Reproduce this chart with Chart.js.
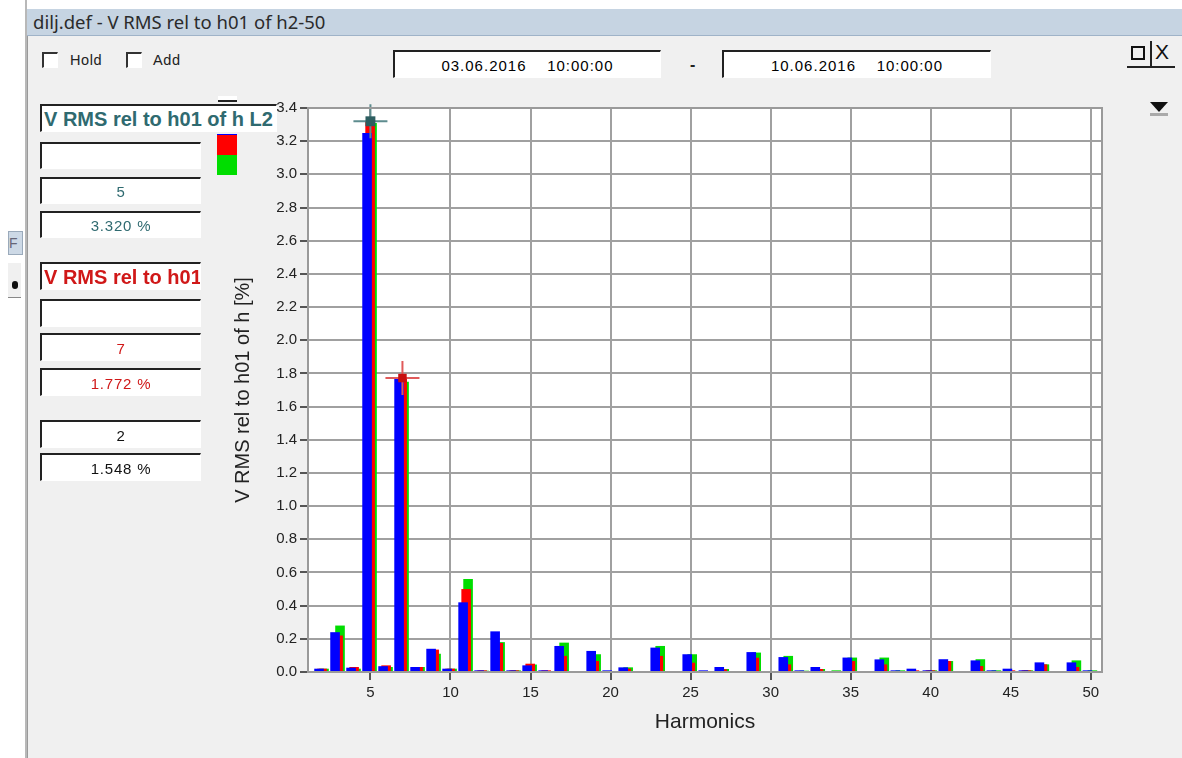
<!DOCTYPE html>
<html>
<head>
<meta charset="utf-8">
<script src="https://cdn.jsdelivr.net/npm/chart.js@4.4.1/dist/chart.umd.min.js"></script>
<style>
  body { margin: 0; width: 1182px; height: 758px; background: #fff; overflow: hidden;
         font-family: "Liberation Sans", Arial, sans-serif; position: relative; }
  .abs { position: absolute; }
  #win { left: 27px; top: 9px; width: 1155px; height: 749px; background: #f0f0f0;
         border-left: 1px solid #9a9a9a; }
  #titlebar { left: 27px; top: 9px; width: 1155px; height: 27px; background: #c6d4e2;
              border-bottom: 1px solid #9fb3c8; font-family: "Noto Sans", "DejaVu Sans", sans-serif;
              font-size: 18.5px; color: #2b2b2b; line-height: 26px; padding-left: 6px; box-sizing: border-box; }
  .chk { width: 13px; height: 13px; background: #fff; border-top: 2px solid #333; border-left: 2px solid #333;
         border-right: 1px solid #fff; border-bottom: 1px solid #fff; }
  .lbl { font-size: 14.5px; color: #222; letter-spacing: 0.6px; }
  .box { background: #fff; border-top: 2px solid #222; border-left: 2px solid #222;
         border-right: 1px solid #fff; border-bottom: 1px solid #fff; box-sizing: border-box;
         font-size: 15px; letter-spacing: 0.8px; text-align: center; overflow: hidden; white-space: pre; }
  .date { font-size: 15px; letter-spacing: 1px; }
  .teal { color: #2f6a70; }
  .red { color: #d01818; }
  .big { font-weight: bold; font-size: 20px; letter-spacing: 0; text-align: left; padding-left: 2px; }
  #chartWrap { left: 225px; top: 91px; width: 881px; height: 655px; }
</style>
</head>
<body>
<div id="win" class="abs"></div>
<div id="titlebar" class="abs">dilj.def - V RMS rel to h01 of h2-50</div>

<!-- partial neighbour window on the left -->
<div class="abs" style="left:25px;top:0;width:2px;height:758px;background:#b8b8b8"></div>
<div class="abs" style="left:8px;top:231px;width:13px;height:22px;background:#cdd9e6;border:1px solid #9aaabb;font-size:14px;color:#667;line-height:22px">F</div>
<div class="abs" style="left:8px;top:262px;width:13px;height:34px;background:#f0f0f0;border-top:1px solid #fff;border-bottom:1px solid #888"></div>
<div class="abs" style="left:12px;top:281px;width:6px;height:8px;background:#111;border-radius:3px"></div>

<!-- top controls -->
<div class="abs chk" style="left:42px;top:52px"></div>
<div class="abs lbl" style="left:70px;top:52px">Hold</div>
<div class="abs chk" style="left:126px;top:52px"></div>
<div class="abs lbl" style="left:153px;top:52px">Add</div>

<div class="abs box date" style="left:393px;top:50px;width:268px;height:28px;line-height:27px">03.06.2016    10:00:00</div>
<div class="abs" style="left:690px;top:56px;font-size:16px;font-weight:bold;color:#222">-</div>
<div class="abs box date" style="left:722px;top:50px;width:269px;height:28px;line-height:27px">10.06.2016    10:00:00</div>

<!-- window buttons -->
<div class="abs" style="left:1127px;top:42px;width:48px;height:24px;border-bottom:2px solid #222"></div>
<div class="abs" style="left:1131px;top:46px;width:14px;height:14px;border:2px solid #111;box-sizing:border-box"></div>
<div class="abs" style="left:1150px;top:41px;width:2px;height:25px;background:#222"></div>
<div class="abs" style="left:1155px;top:40px;font-size:21px;color:#111">X</div>
<div class="abs" style="left:1150px;top:102px;width:0;height:0;border-left:9px solid transparent;border-right:9px solid transparent;border-top:10px solid #111"></div>
<div class="abs" style="left:1150px;top:113px;width:18px;height:3px;background:#aaa"></div>

<div id="chartWrap" class="abs"><canvas id="chart" width="881" height="655"></canvas></div>

<!-- left cursor panel (drawn above the chart) -->
<div class="abs" style="left:218px;top:96px;width:19px;height:4px;background:#fff;border-bottom:2px solid #222"></div>
<div class="abs box teal big" style="left:40px;top:104px;width:237px;height:28px;line-height:27px">V RMS rel to h01 of h L2</div>
<div class="abs" style="left:217px;top:134px;width:20px;height:1px;background:#0000ff"></div>
<div class="abs" style="left:217px;top:135px;width:20px;height:20px;background:#ff0000"></div>
<div class="abs" style="left:217px;top:155px;width:20px;height:20px;background:#00dd00"></div>
<div class="abs box" style="left:40px;top:142px;width:161px;height:27px"></div>
<div class="abs box teal" style="left:40px;top:177px;width:161px;height:27px;line-height:26px">5</div>
<div class="abs box teal" style="left:40px;top:211px;width:161px;height:27px;line-height:26px">3.320 %</div>
<div class="abs box red big" style="left:40px;top:262px;width:161px;height:28px;line-height:27px">V RMS rel to h01 of h L1</div>
<div class="abs box" style="left:40px;top:299px;width:161px;height:28px"></div>
<div class="abs box red" style="left:40px;top:333px;width:161px;height:28px;line-height:27px">7</div>
<div class="abs box red" style="left:40px;top:368px;width:161px;height:28px;line-height:27px">1.772 %</div>
<div class="abs box" style="left:40px;top:420px;width:161px;height:28px;line-height:27px;color:#111">2</div>
<div class="abs box" style="left:40px;top:453px;width:161px;height:28px;line-height:27px;color:#111">1.548 %</div>

<script>
// harmonic orders shown on the x axis
const harmonics = [2, 3, 4, 5, 6, 7, 8, 9, 10, 11, 12, 13, 14, 15, 16, 17, 18, 19, 20, 21, 22, 23, 24, 25, 26,
  27, 28, 29, 30, 31, 32, 33, 34, 35, 36, 37, 38, 39, 40, 41, 42, 43, 44, 45, 46, 47, 48, 49, 50];

// V RMS rel to h01 [%], one value per harmonic
const blueValues = [0.02, 0.24, 0.026, 3.25, 0.035, 1.77, 0.03, 0.14, 0.02, 0.42, 0.01, 0.245, 0.01, 0.04, 0.01,
  0.157, 0, 0.127, 0.01, 0.028, 0, 0.147, 0, 0.107, 0.01, 0.03, 0, 0.12, 0, 0.09, 0.01, 0.03, 0, 0.087,
  0, 0.076, 0.01, 0.02, 0.01, 0.077, 0, 0.07, 0.01, 0.02, 0.01, 0.058, 0, 0.058, 0.01];
const redValues = [0.02, 0.22, 0.03, 3.32, 0.04, 1.772, 0.03, 0.135, 0.02, 0.50, 0.01, 0.175, 0.01, 0.05, 0.01,
  0.097, 0, 0.066, 0.005, 0.02, 0, 0.097, 0, 0.056, 0.005, 0.016, 0, 0.086, 0, 0.046, 0.005, 0.018, 0, 0.066,
  0, 0.046, 0.005, 0.01, 0.01, 0.066, 0, 0.036, 0.005, 0.01, 0.01, 0.046, 0, 0.03, 0.005];
const greenValues = [0.02, 0.28, 0.02, 3.31, 0.03, 1.75, 0.03, 0.11, 0.02, 0.56, 0.008, 0.18, 0.01, 0.045, 0.005,
  0.177, 0, 0.107, 0.005, 0.028, 0, 0.157, 0, 0.107, 0.005, 0.018, 0, 0.117, 0, 0.097, 0.008, 0.018, 0.01, 0.087,
  0, 0.087, 0.01, 0.005, 0.01, 0.066, 0, 0.077, 0.01, 0.005, 0.01, 0.046, 0, 0.07, 0.01];

const xTickValues = [5, 10, 15, 20, 25, 30, 35, 40, 45, 50];
const yTickValues = [0, 0.2, 0.4, 0.6, 0.8, 1.0, 1.2, 1.4, 1.6, 1.8, 2.0, 2.2, 2.4, 2.6, 2.8, 3.0, 3.2, 3.4];

// the two cursors (harmonic, value)
const cursorHarmonics = [5, 7];
const cursorValues = [3.320, 1.772];

const FONT = '"Liberation Sans", Arial, sans-serif';
const X_MIN = 1.1, X_MAX = 50.7;

const setTicks = vals => scale => { scale.ticks = vals.map(v => ({ value: v })); };

// each phase sits on its own hidden axis, shifted a little so the bars overlap like the original
function hiddenAxis(shift) {
  return { type: 'linear', display: false, offset: false, min: X_MIN + shift, max: X_MAX + shift,
           afterBuildTicks: setTicks(xTickValues) };
}

function barSet(label, values, color, axis) {
  return {
    type: 'bar',
    label: label,
    data: harmonics.map((h, i) => ({ x: h, y: values[i] })),
    backgroundColor: color,
    borderWidth: 0,
    xAxisID: axis,
    grouped: false,
    categoryPercentage: 1,
    barPercentage: 0.6
  };
}

function cursorSet(i, style, radius, color, order) {
  return {
    type: 'scatter',
    data: [{ x: cursorHarmonics[i], y: cursorValues[i] }],
    xAxisID: 'x',
    order: order,
    clip: false,
    pointStyle: style,
    pointRadius: radius,
    pointHoverRadius: radius,
    pointBackgroundColor: color,
    pointBorderColor: color,
    pointBorderWidth: style === 'cross' ? 2 : 0
  };
}

const plotFrame = {
  id: 'plotFrame',
  beforeDraw(chart) {
    const { ctx, chartArea: a } = chart;
    ctx.save();
    ctx.fillStyle = '#fff';
    ctx.fillRect(a.left, a.top, a.right - a.left, a.bottom - a.top);
    ctx.restore();
  },
  afterDraw(chart) {
    const { ctx, chartArea: a } = chart;
    ctx.save();
    ctx.strokeStyle = '#9a9a9a';
    ctx.lineWidth = 2;
    ctx.strokeRect(a.left, a.top, a.right - a.left, a.bottom - a.top);
    ctx.restore();
  }
};

new Chart(document.getElementById('chart'), {
  type: 'bar',
  data: {
    datasets: [
      cursorSet(0, 'rect', 7, '#2d5e60', -2),
      cursorSet(0, 'cross', 17, '#5e8c8e', -1),
      cursorSet(1, 'rect', 6, '#c81010', -2),
      cursorSet(1, 'cross', 17, '#e05a5a', -1),
      barSet('L3', blueValues, '#0000ff', 'xBlue'),
      barSet('L1', redValues, '#ff0000', 'xRed'),
      barSet('L2', greenValues, '#00dd00', 'xGreen')
    ]
  },
  options: {
    responsive: false,
    animation: false,
    layout: { autoPadding: false, padding: { top: 17, right: 4, left: 0, bottom: 0 } },
    plugins: { legend: { display: false }, tooltip: { enabled: false } },
    scales: {
      x: {
        type: 'linear',
        position: 'bottom',
        offset: false,
        min: X_MIN,
        max: X_MAX,
        afterBuildTicks: setTicks(xTickValues),
        afterFit: s => { s.height = 74; },
        grid: { offset: false, color: '#a0a0a0', lineWidth: 2, tickLength: 8, tickColor: '#222', tickWidth: 1.5 },
        border: { display: true, color: '#9a9a9a', width: 2 },
        ticks: { color: '#222', padding: 4, font: { family: FONT, size: 15 }, maxRotation: 0,
                 callback: v => String(v) },
        title: { display: true, text: 'Harmonics', color: '#222',
                 font: { family: FONT, size: 21 }, padding: { top: 0, bottom: 11 } }
      },
      xBlue: hiddenAxis(0.21),
      xRed: hiddenAxis(0.02),
      xGreen: hiddenAxis(-0.1),
      y: {
        min: 0,
        max: 3.4,
        afterBuildTicks: setTicks(yTickValues),
        afterFit: s => { s.width = 83; },
        grid: { color: '#a0a0a0', lineWidth: 2, tickLength: 8, tickColor: '#222', tickWidth: 1.5 },
        border: { display: true, color: '#9a9a9a', width: 2 },
        ticks: { color: '#222', padding: 3, font: { family: FONT, size: 15 },
                 callback: v => Number(v).toFixed(1) },
        title: { display: true, text: 'V RMS rel to h01 of h [%]', color: '#222',
                 font: { family: FONT, size: 20 }, padding: { top: 6, bottom: 0 } }
      }
    }
  },
  plugins: [plotFrame]
});
</script>
</body>
</html>
